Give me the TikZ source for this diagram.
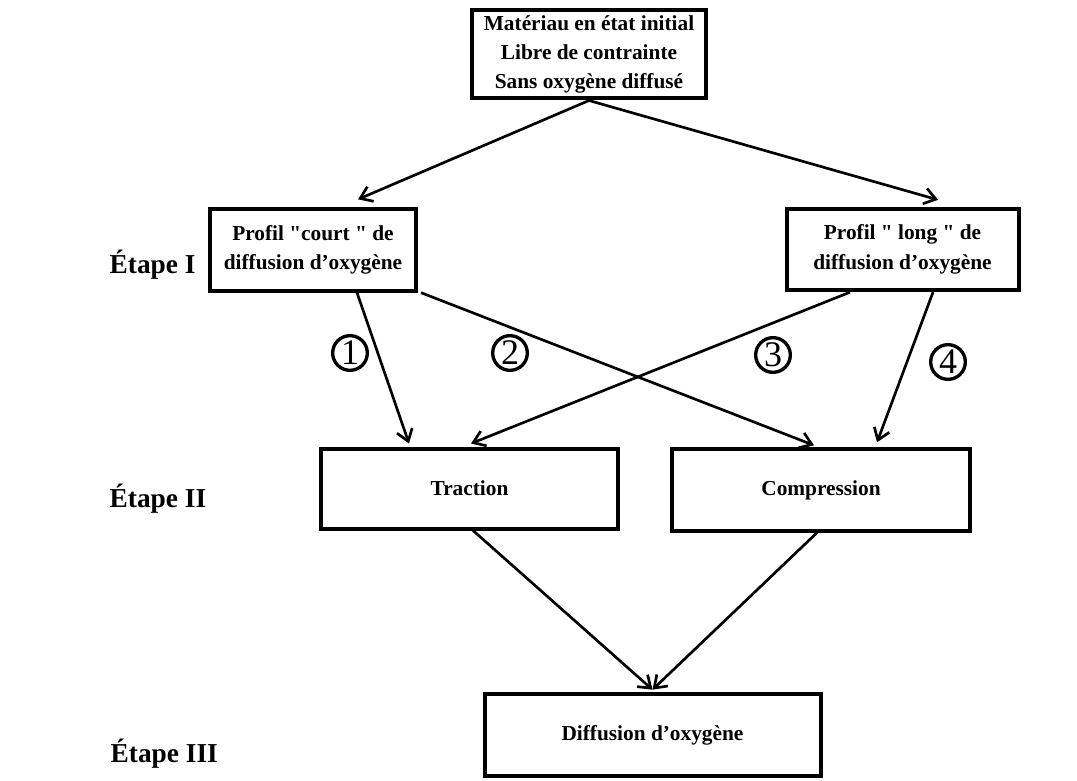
\documentclass[tikz,border=0pt]{standalone}
\usepackage{fontspec}
\setmainfont{Liberation Serif}
\usetikzlibrary{arrows.meta,calc}
\newcommand{\sq}{\XeTeXglyph\XeTeXcharglyph"22\relax}
\begin{document}
\begin{tikzpicture}[x=0.75pt,y=-0.75pt,
  box/.style={draw, line width=3pt, inner sep=0pt, align=center,
    font=\bfseries\fontsize{16}{22}\selectfont},
  arr/.style={line width=2pt, -{Straight Barb[length=8.5pt,width=12pt]}},
  num/.style={draw, circle, line width=2.5pt, minimum size=26pt, inner sep=0pt,
    font=\fontsize{27}{27}\selectfont},
  etape/.style={anchor=base west, font=\bfseries\fontsize{20.5}{21}\selectfont}]
\useasboundingbox[fill=white] (0,0) rectangle (1077,781);

\node[box, minimum width=176pt, minimum height=66pt] (top) at (589,54.5)
  {Matériau en état initial\\Libre de contrainte\\Sans oxygène diffusé};
\node[box, minimum width=155pt, minimum height=61pt] (court) at (313,250)
  {Profil \sq court \sq\ de\\diffusion d’oxygène};
\node[box, minimum width=174pt, minimum height=61pt] (long) at (902.5,249.5)
  {Profil \sq\ long \sq\ de\\diffusion d’oxygène};
\node[box, minimum width=223pt, minimum height=60pt] (traction) at (469.5,488.5)
  {Traction};
\node[box, minimum width=224pt, minimum height=61pt] (compression) at (821,490)
  {Compression};
\node[box, minimum width=252pt, minimum height=62pt] (diffusion) at (652.5,735)
  {Diffusion d’oxygène};

\draw[arr] (top.south) -- ($(court.north)+(45,-8)$);
\draw[arr] (top.south) -- ($(long.north)+(35.5,-7)$);
\draw[arr] ($(court.south)+(44,0)$) -- ($(traction.north)+(-60.5,-3)$);
\draw[arr] ($(court.south)+(108,0)$) -- ($(compression.north)+(-7,-2)$);
\draw[arr] ($(long.south)+(-52.5,0)$) -- ($(traction.north)+(1.5,-3)$);
\draw[arr] ($(long.south)+(30.5,0)$) -- ($(compression.north)+(56,-5)$);
\draw[arr] ($(traction.south)+(3.5,0)$) -- ($(diffusion.north)+(0,-2)$);
\draw[arr] ($(compression.south)+(-4,0)$) -- ($(diffusion.north)+(0,-2)$);

\node[num] (n1) at (350,353) {1};
\node[num] (n2) at (510,353) {2};
\node[num] (n3) at (773,355) {3};
\node[num] (n4) at (948,362) {4};

\node[etape] (e1) at (105,273) {Étape I};
\node[etape] (e2) at (105,507) {Étape II};
\node[etape] (e3) at (106,762) {Étape III};
\end{tikzpicture}
\end{document}
